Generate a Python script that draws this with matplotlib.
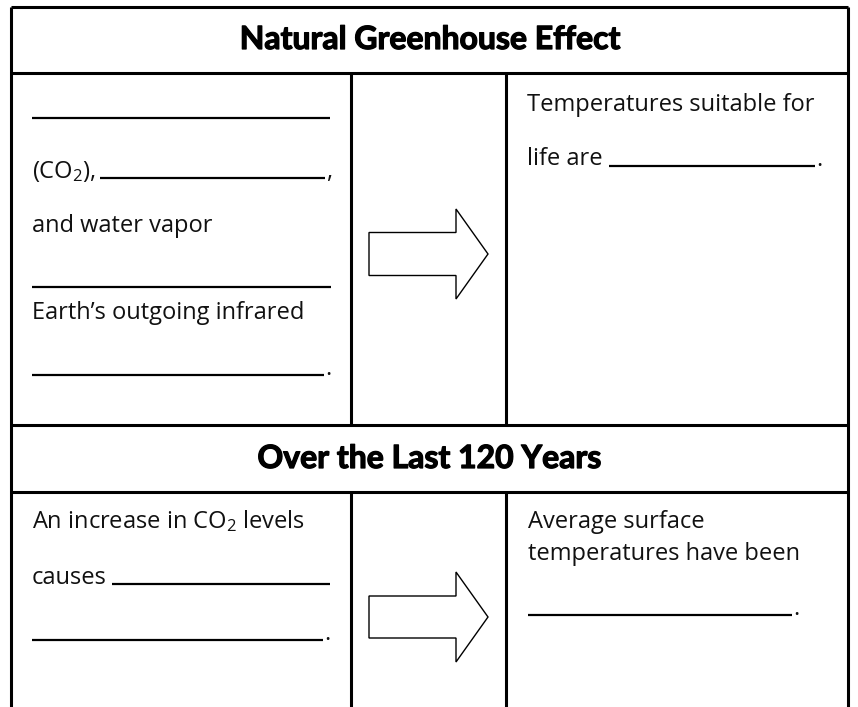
import matplotlib.pyplot as plt
import matplotlib.patheffects as pe
from matplotlib.patches import Polygon

plt.rcParams["font.family"] = ["Open Sans", "DejaVu Sans"]
plt.rcParams["mathtext.default"] = "regular"

# ============================================================
# Worksheet content
# ============================================================
headers = ["Natural Greenhouse Effect", "Over the Last 120 Years"]

left_top_text = ["(CO$_2$),", "and water vapor", "Earth\u2019s outgoing infrared"]
right_top_text = ["Temperatures suitable for", "life are"]
left_bottom_text = ["An increase in CO$_2$ levels", "causes"]
right_bottom_text = ["Average surface", "temperatures have been"]

# ============================================================
# Layout (pixel coordinates, y grows downward)
# ============================================================
W, H = 858, 707
x_left, x_right = 11, 848
x_div1, x_div2 = 351, 506
y_top, y_head1, y_head2_top, y_head2_bot = 7, 73, 425, 492

fig = plt.figure(figsize=(W / 100, H / 100), dpi=100)
ax = fig.add_axes([0, 0, 1, 1])
ax.set_xlim(0, W)
ax.set_ylim(H, 0)
ax.axis("off")

border = dict(color="black", linewidth=2.2, solid_capstyle="butt")
ax.plot([x_left, x_left], [y_top, H], **border)
ax.plot([x_right, x_right], [y_top, H], **border)
for y in [y_top, y_head1, y_head2_top, y_head2_bot]:
    ax.plot([x_left, x_right], [y, y], **border)
for x in [x_div1, x_div2]:
    ax.plot([x, x], [y_head1, y_head2_top], **border)
    ax.plot([x, x], [y_head2_bot, H], **border)

# headers (heavy weight faked with a thin stroke)
title_font = dict(family=["Lato", "DejaVu Sans"], fontweight="bold",
                  fontsize=23, ha="center", va="baseline",
                  path_effects=[pe.withStroke(linewidth=0.9, foreground="black")])
ax.text((x_left + x_right) / 2 + 1, 49, headers[0], **title_font)
ax.text((x_left + x_right) / 2, 468, headers[1], **title_font)

body = dict(fontsize=17, ha="left", va="baseline", color="#111111")


def blank(x0, x1, y, end=None):
    ax.plot([x0, x1], [y, y], color="black", linewidth=1.6,
            solid_capstyle="butt")
    if end:
        ax.text(x1 + 1, y, end, **body)


# top left cell
blank(32, 330, 118)
ax.text(32, 178, left_top_text[0], **body)
blank(100, 325, 178, ",")
ax.text(32, 232, left_top_text[1], **body)
blank(32, 331, 287)
ax.text(32, 319, left_top_text[2], **body)
blank(32, 324, 375, ".")

# top right cell
ax.text(527, 111, right_top_text[0], **body)
ax.text(527, 165, right_top_text[1], **body)
blank(609, 815, 166, ".")

# bottom left cell
ax.text(32, 528, left_bottom_text[0], **body)
ax.text(32, 584, left_bottom_text[1], **body)
blank(112, 330, 584)
blank(32, 323, 640, ".")

# bottom right cell
ax.text(528, 528, right_bottom_text[0], **body)
ax.text(528, 560, right_bottom_text[1], **body)
blank(528, 792, 615, ".")


def arrow(y_mid, half_body, half_head):
    pts = [
        (369, y_mid - half_body), (456, y_mid - half_body),
        (456, y_mid - half_head), (488, y_mid),
        (456, y_mid + half_head), (456, y_mid + half_body),
        (369, y_mid + half_body),
    ]
    ax.add_patch(Polygon(pts, closed=True, facecolor="white",
                         edgecolor="black", linewidth=1.0))


arrow(254, 21.5, 45)
arrow(617, 21, 45)

fig.savefig("out.png", dpi=100)
